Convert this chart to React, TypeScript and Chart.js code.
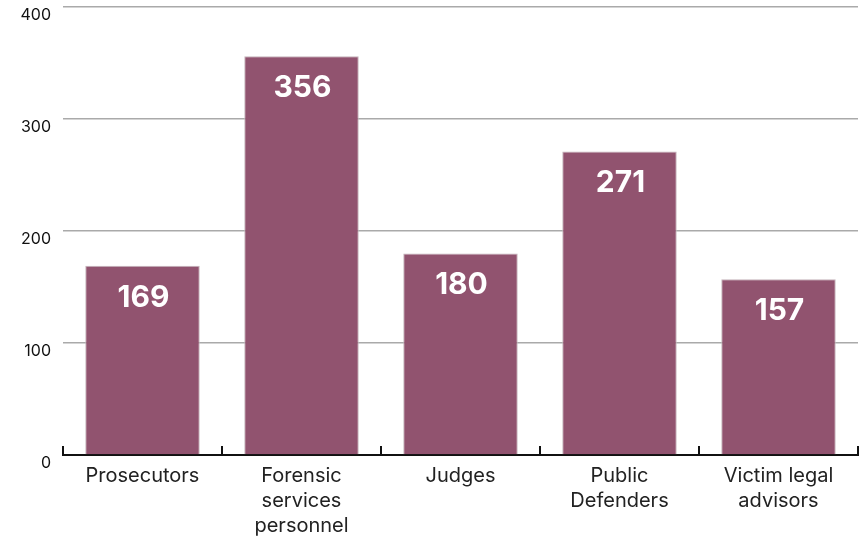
import React, { useEffect, useRef } from "react";
import { Chart, registerables } from "chart.js";

Chart.register(...registerables);

const categories: (string | string[])[] = [
  "Prosecutors",
  ["Forensic", "services", "personnel"],
  "Judges",
  ["Public", "Defenders"],
  ["Victim legal", "advisors"],
];
const values = [169, 356, 180, 271, 157];
const yTicks = [0, 100, 200, 300, 400];

const FONT = "Inter, 'Noto Sans', sans-serif";

const boundaryTicks = {
  id: "boundaryTicks",
  afterDraw(chart: any) {
    const x = chart.scales.x;
    const y = chart.scales.y;
    const ctx = chart.ctx;
    const base = y.getPixelForValue(0);
    ctx.save();
    ctx.strokeStyle = "#111";
    ctx.lineWidth = 2;
    for (let i = 0; i <= values.length; i++) {
      const px = Math.round(x.getPixelForValue(i - 0.5));
      ctx.beginPath();
      ctx.moveTo(px, base + 1);
      ctx.lineTo(px, base - 9);
      ctx.stroke();
    }
    ctx.restore();
  },
};

const valueLabels = {
  id: "valueLabels",
  afterDatasetsDraw(chart: any) {
    const ctx = chart.ctx;
    const meta = chart.getDatasetMeta(0);
    ctx.save();
    ctx.fillStyle = "#ffffff";
    ctx.font = `bold 30px ${FONT}`;
    ctx.textAlign = "center";
    ctx.textBaseline = "middle";
    meta.data.forEach((bar: any, i: number) => {
      ctx.fillText(String(values[i]), bar.x + 1, bar.y + 32);
    });
    ctx.restore();
  },
};

export default function App() {
  const ref = useRef<HTMLCanvasElement | null>(null);
  useEffect(() => {
    if (!ref.current) return;
    const chart = new Chart(ref.current, {
      type: "bar",
      data: {
        labels: categories,
        datasets: [
          {
            data: values,
            backgroundColor: "#91536f",
            borderColor: "#c4b4bb",
            borderWidth: 1,
            categoryPercentage: 1,
            barPercentage: 0.72,
          },
        ],
      },
      options: {
        animation: false,
        responsive: false,
        maintainAspectRatio: false,
        layout: { padding: { top: 7, right: 8, left: 0, bottom: 0 } },
        plugins: { legend: { display: false }, tooltip: { enabled: false } },
        scales: {
          x: {
            grid: { display: false },
            border: { display: true, color: "#111", width: 2 },
            ticks: {
              color: "#222",
              font: { family: FONT, size: 20, lineHeight: 1.25 },
              padding: 0,
              maxRotation: 0,
              autoSkip: false,
            },
            afterFit(scale: any) {
              scale.height = 81;
              scale.paddingLeft = 0;
              scale.paddingRight = 0;
            },
          },
          y: {
            min: 0,
            max: 400,
            afterBuildTicks(scale: any) {
              scale.ticks = yTicks.map((v) => ({ value: v }));
            },
            grid: { color: "#aaaaaa", lineWidth: 1.5, drawTicks: false },
            border: { display: false },
            ticks: {
              color: "#111",
              font: { family: FONT, size: 16 },
              padding: 12,
              labelOffset: 8,
            },
            afterFit(scale: any) {
              scale.width = 63;
              scale.paddingTop = 0;
              scale.paddingBottom = 0;
            },
          },
        },
      },
      plugins: [boundaryTicks, valueLabels],
    });
    return () => chart.destroy();
  }, []);
  return (
    <div style={{ position: "fixed", left: 0, top: 0, width: 866, height: 536, background: "#fff" }}>
      <canvas ref={ref} width={866} height={536} style={{ width: 866, height: 536 }} />
    </div>
  );
}
